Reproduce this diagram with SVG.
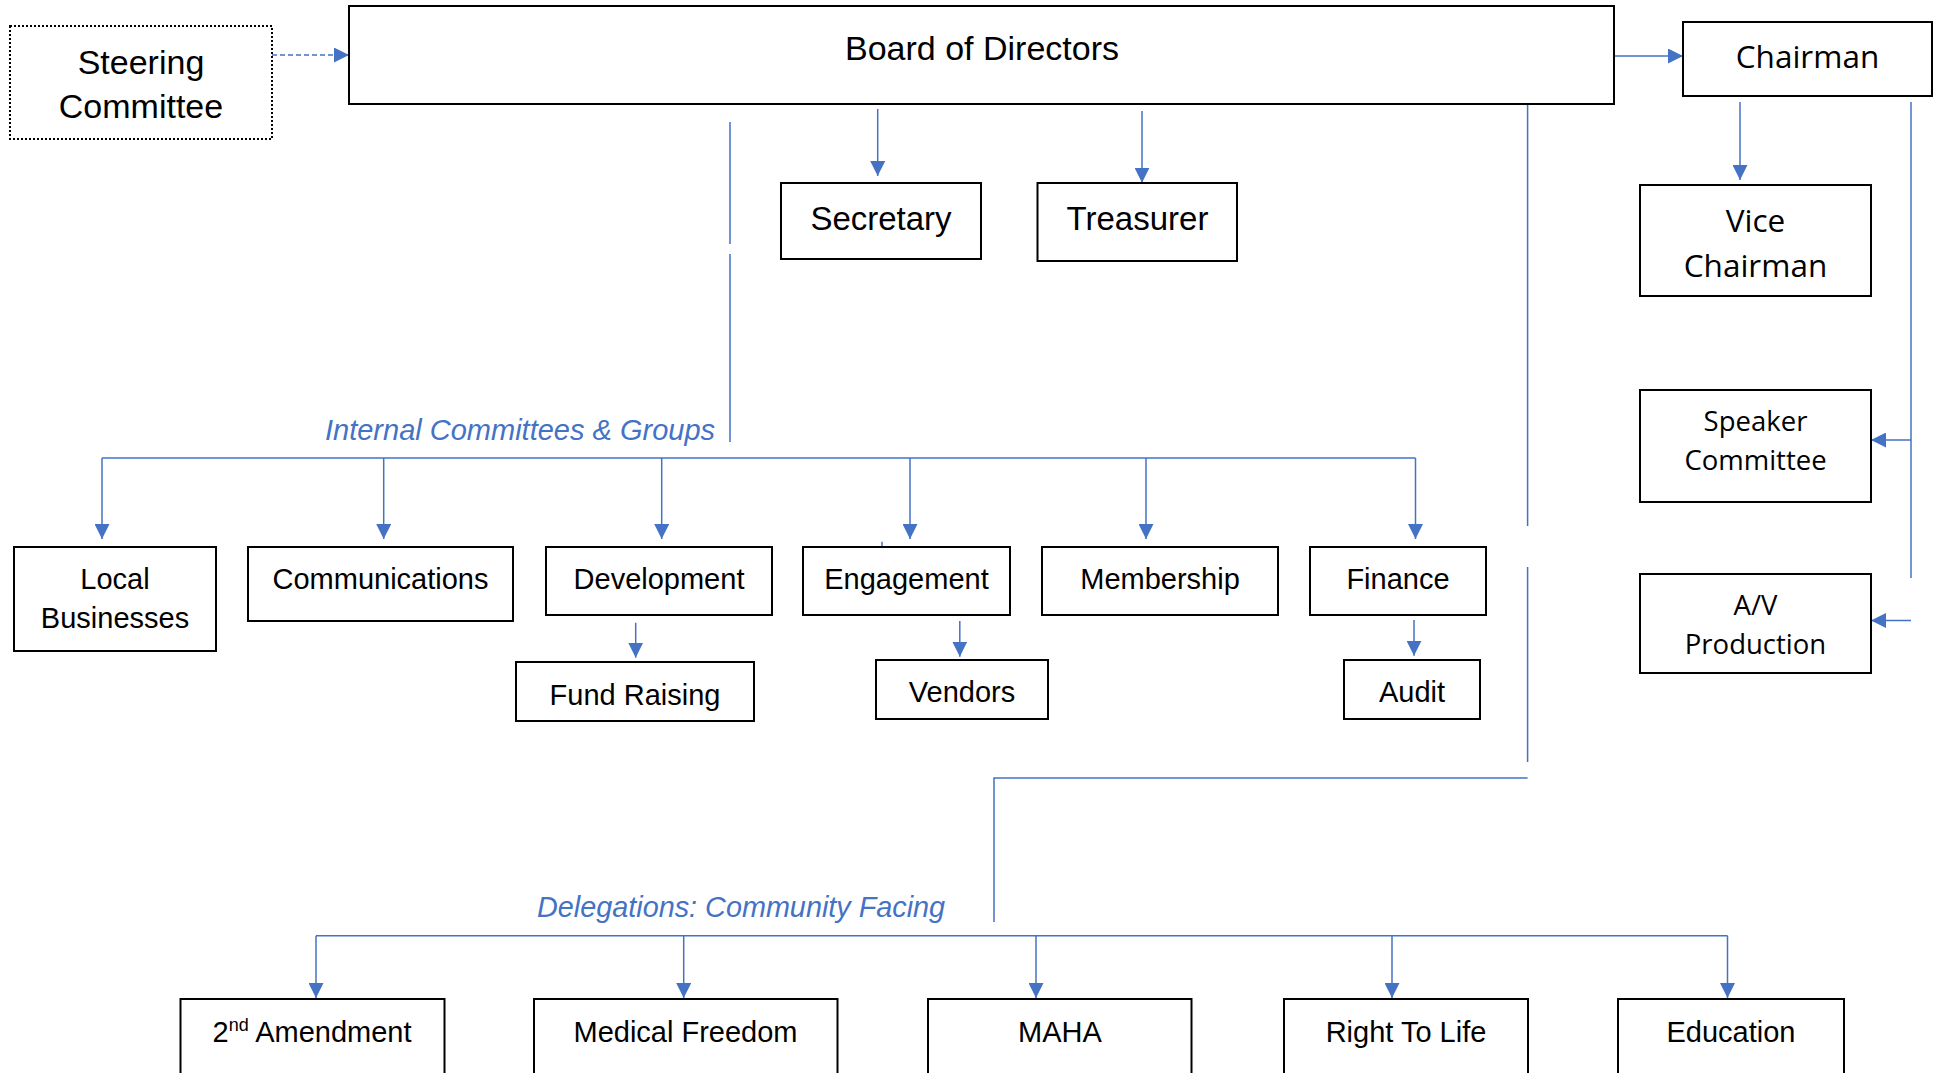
<svg xmlns="http://www.w3.org/2000/svg" width="1941" height="1073" viewBox="0 0 1941 1073">
  <defs>
    <marker id="arrow" viewBox="0 0 15 15" refX="15" refY="7.5" markerWidth="15" markerHeight="15" markerUnits="userSpaceOnUse" orient="auto">
      <path d="M0,0 L15,7.5 L0,15 z" fill="#4472C4"/>
    </marker>
    <style>
      .box { fill: #ffffff; stroke: #000000; stroke-width: 2; }
      .dotted { fill: #ffffff; stroke: #000000; stroke-width: 2; stroke-dasharray: 2 2; }
      .t { font-family: "Liberation Sans", Arial, sans-serif; fill: #000000; text-anchor: middle; }
      .w { font-family: "Open Sans", "Noto Sans", sans-serif; fill: #000000; text-anchor: middle; }
      .lbl { font-family: "Liberation Sans", Arial, sans-serif; font-style: italic; fill: #4472C4; font-size: 29px; }
      .c { fill: none; stroke: #4472C4; stroke-width: 1.5; }
      .a { marker-end: url(#arrow); }
      .dash { stroke-dasharray: 5 3; }
    </style>
  </defs>
  <rect width="1941" height="1073" fill="#ffffff"/>

  <!-- connectors -->
  <g id="connectors">
    <path class="c a dash" d="M272,55 H349"/>
    <path class="c a" d="M1614,56 H1683"/>
    <path class="c a" d="M877.7,109 V176"/>
    <path class="c a" d="M1142,111 V182.7"/>

    <!-- internal committees trunk and bus -->
    <path class="c" d="M730,122 V244 M730,254 V442"/>
    <path class="c" d="M102,458 H1415.5"/>
    <path class="c a" d="M102,458 V539"/>
    <path class="c a" d="M383.7,458 V539"/>
    <path class="c a" d="M661.7,458 V539"/>
    <path class="c a" d="M910,458 V539"/>
    <path class="c a" d="M1146,458 V539"/>
    <path class="c a" d="M1415.5,458 V539"/>
    <path class="c" d="M882,541.7 V546.7"/>

    <path class="c a" d="M635.7,622.7 V657.7"/>
    <path class="c a" d="M959.8,621 V656.7"/>
    <path class="c a" d="M1414,620 V655.7"/>

    <!-- delegations trunk and bus -->
    <path class="c" d="M1527.6,104 V526 M1527.6,567 V762"/>
    <path class="c" d="M1527.6,778 H994 V922"/>
    <path class="c" d="M316,935.7 H1727.5"/>
    <path class="c a" d="M316,935.7 V998"/>
    <path class="c a" d="M683.7,935.7 V998"/>
    <path class="c a" d="M1036,935.7 V998"/>
    <path class="c a" d="M1392,935.7 V998"/>
    <path class="c a" d="M1727.5,935.7 V998"/>

    <!-- chairman branch -->
    <path class="c a" d="M1740,102 V180"/>
    <path class="c" d="M1911,102 V578"/>
    <path class="c a" d="M1911,440 H1871"/>
    <path class="c a" d="M1911,620.5 H1871"/>
  </g>

  <!-- labels -->
  <text class="lbl" x="325" y="440">Internal Committees &amp; Groups</text>
  <text class="lbl" x="537" y="917" style="font-size:28.8px">Delegations: Community Facing</text>

  <!-- leadership -->
  <g id="steering-committee">
    <rect class="dotted" x="10" y="26" width="262" height="113"/>
    <text class="t" x="141" y="74" font-size="34">Steering</text>
    <text class="t" x="141" y="118" font-size="34">Committee</text>
  </g>
  <g id="board-of-directors">
    <rect class="box" x="349" y="6" width="1265" height="98"/>
    <text class="t" x="982" y="60" font-size="34">Board of Directors</text>
  </g>
  <g id="secretary">
    <rect class="box" x="781" y="183" width="200" height="76"/>
    <text class="t" x="881" y="230" font-size="33">Secretary</text>
  </g>
  <g id="treasurer">
    <rect class="box" x="1037.5" y="183" width="199.5" height="78"/>
    <text class="t" x="1137.5" y="230" font-size="33">Treasurer</text>
  </g>
  <g id="chairman">
    <rect class="box" x="1683" y="22" width="249" height="74"/>
    <text class="w" x="1807.5" y="68" font-size="31.5">Chairman</text>
  </g>
  <g id="vice-chairman">
    <rect class="box" x="1640" y="185" width="231" height="111"/>
    <text class="w" x="1755.5" y="232" font-size="31.5">Vice</text>
    <text class="w" x="1755.5" y="277" font-size="31.5">Chairman</text>
  </g>
  <g id="speaker-committee">
    <rect class="box" x="1640" y="390" width="231" height="112"/>
    <text class="w" x="1755.5" y="431" font-size="27.5">Speaker</text>
    <text class="w" x="1755.5" y="470" font-size="27.5">Committee</text>
  </g>
  <g id="av-production">
    <rect class="box" x="1640" y="574" width="231" height="99"/>
    <text class="w" x="1755.5" y="615" font-size="27.5">A/V</text>
    <text class="w" x="1755.5" y="654" font-size="27.5">Production</text>
  </g>

  <!-- internal committees -->
  <g id="local-businesses">
    <rect class="box" x="14" y="547" width="202" height="104"/>
    <text class="t" x="115" y="589" font-size="29">Local</text>
    <text class="t" x="115" y="628" font-size="29">Businesses</text>
  </g>
  <g id="communications">
    <rect class="box" x="248" y="547" width="265" height="74"/>
    <text class="t" x="380.5" y="589" font-size="29">Communications</text>
  </g>
  <g id="development">
    <rect class="box" x="546" y="547" width="226" height="68"/>
    <text class="t" x="659" y="589" font-size="29">Development</text>
  </g>
  <g id="fund-raising">
    <rect class="box" x="516" y="662" width="238" height="59"/>
    <text class="t" x="635" y="705" font-size="29">Fund Raising</text>
  </g>
  <g id="engagement">
    <rect class="box" x="803" y="547" width="207" height="68"/>
    <text class="t" x="906.5" y="589" font-size="29">Engagement</text>
  </g>
  <g id="vendors">
    <rect class="box" x="876" y="660" width="172" height="59"/>
    <text class="t" x="962" y="702" font-size="29">Vendors</text>
  </g>
  <g id="membership">
    <rect class="box" x="1042" y="547" width="236" height="68"/>
    <text class="t" x="1160" y="589" font-size="29">Membership</text>
  </g>
  <g id="finance">
    <rect class="box" x="1310" y="547" width="176" height="68"/>
    <text class="t" x="1398" y="589" font-size="29">Finance</text>
  </g>
  <g id="audit">
    <rect class="box" x="1344" y="660" width="136" height="59"/>
    <text class="t" x="1412" y="702" font-size="29">Audit</text>
  </g>

  <!-- delegations -->
  <g id="second-amendment">
    <rect class="box" x="180.5" y="999" width="264" height="80"/>
    <text class="t" x="312" y="1042" font-size="29">2<tspan font-size="18" dy="-11">nd</tspan><tspan dy="11"> Amendment</tspan></text>
  </g>
  <g id="medical-freedom">
    <rect class="box" x="534" y="999" width="303.5" height="80"/>
    <text class="t" x="685.5" y="1042" font-size="29">Medical Freedom</text>
  </g>
  <g id="maha">
    <rect class="box" x="928" y="999" width="263.5" height="80"/>
    <text class="t" x="1060" y="1042" font-size="29">MAHA</text>
  </g>
  <g id="right-to-life">
    <rect class="box" x="1284" y="999" width="244" height="80"/>
    <text class="t" x="1406" y="1042" font-size="29">Right To Life</text>
  </g>
  <g id="education">
    <rect class="box" x="1618" y="999" width="226" height="80"/>
    <text class="t" x="1731" y="1042" font-size="29">Education</text>
  </g>
</svg>
